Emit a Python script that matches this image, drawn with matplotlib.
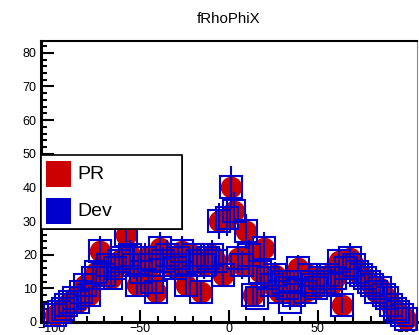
import numpy as np
import matplotlib
matplotlib.use('Agg')
import matplotlib.pyplot as plt
from matplotlib.patches import Rectangle

plt.rcParams['font.family'] = ['Liberation Sans', 'DejaVu Sans']

# histogram binning (100 bins, only the filled ones are listed)
hist_lo, hist_hi, n_bins = -105.0, 105.0, 100
first_bin = 3

pr_counts = [2, 3, 3, 5, 6, 7, 6, 9, 11, 8,
             13, 15, 21, 14, 17, 13, 16, 18, 19, 26,
             20, 17, 11, 15, 19, 17, 12, 9, 22, 18,
             20, 17, 16, 19, 21, 11, 17, 20, 18, 9,
             17, 19, 20, 18, 30, 14, 31, 40, 33, 19,
             17, 27, 20, 8, 17, 15, 22, 13, 11, 14,
             9, 12, 10, 13, 8, 16, 12, 9, 14, 11,
             10, 13, 12, 14, 11, 13, 18, 5, 16, 19,
             17, 15, 14, 13, 12, 11, 9, 10, 8, 7,
             5, 4, 3, 2, 1]
dev_counts = [2, 3, 4, 5, 6, 7, 6, 9, 11, 8,
              13, 15, 21, 14, 17, 13, 16, 18, 19, 26,
              20, 17, 11, 15, 19, 17, 12, 9, 22, 18,
              20, 17, 16, 19, 21, 11, 17, 20, 18, 9,
              17, 19, 20, 18, 30, 14, 31, 40, 33, 19,
              17, 27, 20, 8, 7, 15, 22, 13, 11, 14,
              9, 12, 10, 6, 8, 16, 12, 9, 14, 11,
              10, 13, 12, 14, 11, 13, 18, 5, 16, 19,
              17, 15, 14, 13, 12, 11, 9, 10, 8, 7,
              5, 4, 3, 2, 1]

title = 'fRhoPhiX'
labels = ['PR', 'Dev']

width = (hist_hi - hist_lo) / n_bins
pr = np.array(pr_counts, dtype=float)
dev = np.array(dev_counts, dtype=float)
centers = hist_lo + width * (first_bin + np.arange(len(pr)) + 0.5)

red = '#cc0000'
blue = '#0000cc'

fig = plt.figure(figsize=(4.19, 3.35), dpi=100)
ax = fig.add_axes([41 / 419, 1 - 322 / 335, 376 / 419, 281 / 335])

ax.plot(centers, pr, 'o', color=red, markersize=15.5, markeredgewidth=0,
        clip_on=False, zorder=3)
ax.errorbar(centers, dev, yerr=np.sqrt(dev), fmt='s', color=blue,
            markerfacecolor='none', markeredgecolor=blue, markersize=16.5,
            markeredgewidth=1.5, elinewidth=1.5, capsize=0,
            clip_on=False, zorder=4)

ax.set_xlim(-105.7, 106.0)
ax.set_ylim(0, 83.5)
ax.set_xticks([-100, -50, 0, 50, 100])
ax.set_xticks(np.arange(-100, 101, 10), minor=True)
ax.set_yticks(np.arange(0, 81, 10))
ax.set_yticks(np.arange(0, 84, 2), minor=True)
ax.tick_params(which='both', direction='in', top=False, right=False,
               labelsize=9, width=1.5)
ax.tick_params(which='major', length=9)
ax.tick_params(which='minor', length=4.5)
ax.tick_params(axis='x', pad=1)
ax.tick_params(axis='y', pad=3)

for side in ['left', 'bottom']:
    ax.spines[side].set_linewidth(2.2)
ax.spines['top'].set_linewidth(1.5)
ax.spines['right'].set_linewidth(0.8)
ax.spines['right'].set_color('#888888')

fig.text(229 / 419, 1 - 19 / 335, title, ha='center', va='center', fontsize=10.8)

# legend box drawn by hand, ROOT style
fig.patches.append(Rectangle((42 / 419, 1 - 230 / 335), 141 / 419, 74 / 335,
                             transform=fig.transFigure, facecolor='#222222',
                             edgecolor='none', zorder=9))
fig.patches.append(Rectangle((41 / 419, 1 - 229 / 335), 141 / 419, 74 / 335,
                             transform=fig.transFigure, facecolor='white',
                             edgecolor='black', linewidth=1.2, zorder=10))
for i, (lab, col) in enumerate(zip(labels, [red, blue])):
    ytop = 161 + 37 * i
    fig.patches.append(Rectangle((46 / 419, 1 - (ytop + 26) / 335), 25 / 419, 26 / 335,
                                 transform=fig.transFigure, facecolor=col,
                                 edgecolor='none', zorder=11))
    fig.text(77 / 419, 1 - (ytop + 14) / 335, lab, ha='left', va='center',
             fontsize=14, zorder=12)

fig.savefig('out.png', dpi=100)
